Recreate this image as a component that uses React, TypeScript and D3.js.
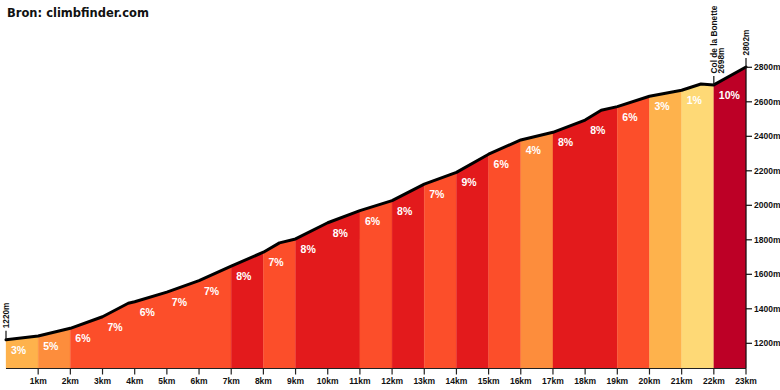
import * as d3 from 'd3';
import React from 'react';

// elevation profile (km, metres)
const distances = [0, 1, 2, 3, 3.8, 4, 5, 6, 7, 8, 8.5, 9, 10, 11, 12, 13, 14, 15, 16, 17, 18, 18.5, 19, 20, 21, 21.6, 22, 23];
const elevations = [1220, 1242, 1287, 1354, 1432, 1441, 1497, 1563, 1648, 1728, 1782, 1805, 1899, 1969, 2027, 2123, 2191, 2296, 2379, 2423, 2494, 2551, 2572, 2632, 2667, 2703, 2698, 2802];

// one gradient label per km
const segmentGrades = [3, 5, 6, 7, 6, 7, 7, 8, 7, 8, 8, 6, 8, 7, 9, 6, 4, 8, 8, 6, 3, 1, 10];

const kmTicks = [1, 2, 3, 4, 5, 6, 7, 8, 9, 10, 11, 12, 13, 14, 15, 16, 17, 18, 19, 20, 21, 22, 23];
const elevTicks = [1200, 1400, 1600, 1800, 2000, 2200, 2400, 2600, 2800];

const markerKm = [0, 22, 23];
const markerLabels = [['1220m'], ['Col de la Bonette', '2698m'], ['2802m']];

const gradeThresholds = [2, 4, 6, 8, 10];
const gradeColors = ['#fed976', '#feb24c', '#fd8d3c', '#fc4e2a', '#e31a1c', '#bd0026'];

const W = 780;
const H = 390;

export default function App() {
  const ref = React.useRef<SVGSVGElement>(null);

  React.useEffect(() => {
    document.body.style.margin = '0';
    if (!ref.current) return;
    const svg = d3.select(ref.current);
    svg.selectAll('*').remove();

    const x = d3.scaleLinear().domain([0, 23]).range([6, 746]);
    const y = d3.scaleLinear().domain([1200, 2800]).range([343.3, 67.3]);
    const baseY = 368.5;
    const color = d3.scaleThreshold<number, string>().domain(gradeThresholds).range(gradeColors);

    const pts = distances.map((d, i) => ({ d, e: elevations[i] }));
    const elevAt = (km: number) => pts.find((p) => p.d === km)!.e;

    const area = d3
      .area<{ d: number; e: number }>()
      .x((p) => x(p.d))
      .y0(baseY)
      .y1((p) => y(p.e));

    // coloured blocks: consecutive km with the same colour share one shape (no seams)
    const runs: Array<{ start: number; end: number; c: string }> = [];
    segmentGrades.forEach((g, i) => {
      const c = color(g);
      const last = runs[runs.length - 1];
      if (last && last.c === c) last.end = i + 1;
      else runs.push({ start: i, end: i + 1, c });
    });
    const fills = svg.append('g');
    runs.forEach((r) => {
      const seg = pts.filter((p) => p.d >= r.start && p.d <= r.end);
      fills.append('path').datum(seg).attr('d', area).attr('fill', r.c).attr('stroke', r.c).attr('stroke-width', 0.3);
    });

    // profile line
    const line = d3
      .line<{ d: number; e: number }>()
      .x((p) => x(p.d))
      .y((p) => y(p.e));
    svg
      .append('path')
      .datum(pts)
      .attr('d', line)
      .attr('fill', 'none')
      .attr('stroke', '#000')
      .attr('stroke-width', 3)
      .attr('stroke-linejoin', 'round')
      .attr('stroke-linecap', 'round');

    // gradient labels
    svg
      .append('g')
      .selectAll('text')
      .data(segmentGrades)
      .enter()
      .append('text')
      .attr('x', (_, i) => x(i) + 5)
      .attr('y', (_, i) => y(elevAt(i)) + 14)
      .attr('fill', '#fff')
      .attr('font-family', '"Liberation Sans", Arial, sans-serif')
      .attr('font-weight', 'bold')
      .attr('font-size', 10.5)
      .text((g) => `${g}%`);

    // bottom axis
    const xAxis = svg.append('g');
    xAxis.append('line').attr('x1', x(0)).attr('x2', x(23)).attr('y1', baseY).attr('y2', baseY).attr('stroke', '#222').attr('stroke-width', 1);
    const xt = xAxis.selectAll('g').data(kmTicks).enter().append('g').attr('transform', (k) => `translate(${x(k)},0)`);
    xt.append('line').attr('y1', baseY).attr('y2', baseY + 6).attr('stroke', '#222').attr('stroke-width', 1.2);
    xt.append('text')
      .attr('y', baseY + 15.5)
      .attr('text-anchor', 'middle')
      .attr('font-family', '"Liberation Sans", Arial, sans-serif')
      .attr('font-weight', 'bold')
      .attr('font-size', 8.5)
      .attr('fill', '#111')
      .text((k) => `${k}km`);

    // right axis
    const yAxis = svg.append('g');
    yAxis.append('line').attr('x1', x(23)).attr('x2', x(23)).attr('y1', baseY).attr('y2', y(2802)).attr('stroke', '#111').attr('stroke-width', 1.2);
    const yt = yAxis.selectAll('g').data(elevTicks).enter().append('g').attr('transform', (v) => `translate(0,${y(v)})`);
    yt.append('line').attr('x1', x(23)).attr('x2', x(23) + 6).attr('stroke', '#111').attr('stroke-width', 1.2);
    yt.append('text')
      .attr('x', x(23) + 8)
      .attr('dy', '0.35em')
      .attr('font-family', '"Liberation Sans", Arial, sans-serif')
      .attr('font-weight', 'bold')
      .attr('font-size', 8.5)
      .attr('fill', '#111')
      .text((v) => `${v}m`);

    // summit / start markers
    markerKm.forEach((km, i) => {
      const top = y(elevAt(km));
      const mx = x(km);
      svg.append('line').attr('x1', mx).attr('x2', mx).attr('y1', top).attr('y2', top - 9).attr('stroke', '#111').attr('stroke-width', 1.2);
      const g = svg.append('g').attr('transform', `translate(${mx},${top - 11.5}) rotate(-90)`);
      markerLabels[i].forEach((t, j) => {
        g.append('text')
          .attr('x', 0)
          .attr('y', 3 + j * 6.8)
          .attr('font-family', '"Liberation Sans", Arial, sans-serif')
          .attr('font-weight', 'bold')
          .attr('font-size', 8.3)
          .attr('fill', '#111')
          .text(t);
      });
    });

    // title
    svg
      .append('text')
      .attr('x', 7)
      .attr('y', 16.5)
      .attr('font-family', '"DejaVu Sans", Verdana, sans-serif')
      .attr('font-weight', 'bold')
      .attr('font-size', 11.5)
      .attr('fill', '#111')
      .text('Bron: climbfinder.com');
  }, []);

  return <svg ref={ref} width={W} height={H} style={{ display: 'block', background: '#fff' }} />;
}
